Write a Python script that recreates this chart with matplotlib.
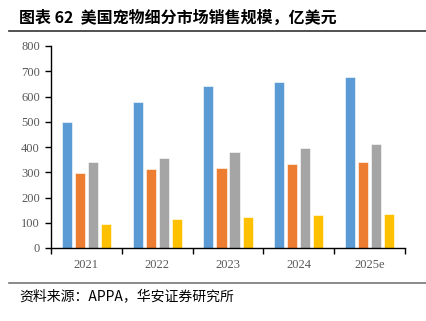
import numpy as np
import matplotlib
matplotlib.use('Agg')
import matplotlib.pyplot as plt
from matplotlib.lines import Line2D

plt.rcParams['font.family'] = ['Noto Sans CJK SC', 'DejaVu Sans']

years = ['2021', '2022', '2023', '2024', '2025e']
s1 = [500, 579, 642, 656, 676]
s2 = [297, 313, 318, 331, 342]
s3 = [342, 357, 381, 396, 412]
s4 = [94, 114, 121, 129, 133]
series = [s1, s2, s3, s4]
colors = ['#5B9BD5', '#ED7D31', '#A5A5A5', '#FFC000']
yticks = [0, 100, 200, 300, 400, 500, 600, 700, 800]

fig = plt.figure(figsize=(4.27, 3.21), dpi=100)
ax = fig.add_axes([51/427, 1-248/321, 354/427, 202/321])

x = np.arange(len(years))
step = 0.184
width = 0.142
for i, (vals, c) in enumerate(zip(series, colors)):
    ax.bar(x + (i - 1.5)*step, vals, width, color=c, edgecolor='white', linewidth=0.4)

ax.set_xlim(-0.5, len(years) - 0.5)
ax.set_ylim(0, 800)
ax.set_yticks(yticks)
ax.set_yticklabels([str(v) for v in yticks], family='Liberation Serif', fontsize=9, color='#595959')
ax.set_xticks(x)
ax.set_xticklabels(years, family='Liberation Serif', fontsize=9, color='#595959')
ax.tick_params(axis='x', length=0, pad=8)
ax.set_xticks(np.arange(len(years)+1) - 0.5, minor=True)
ax.tick_params(axis='x', which='minor', length=4, width=1, direction='out')
ax.tick_params(axis='y', length=4, width=1, direction='out', pad=4)
for s in ['top', 'right']:
    ax.spines[s].set_visible(False)
for s in ['left', 'bottom']:
    ax.spines[s].set_linewidth(1)
    ax.spines[s].set_color('black')

fig.text(19/427, 1-18/321, '图表 62  美国宠物细分市场销售规模，亿美元', fontsize=11.5,
         fontweight='bold', va='center', ha='left')
fig.add_artist(Line2D([9/427, 1], [1-31/321, 1-31/321], color='#333333', linewidth=1.2))
fig.add_artist(Line2D([9/427, 1], [1-283/321, 1-283/321], color='#777777', linewidth=1.2))
fig.text(19/427, 1-296/321, '资料来源：APPA，华安证券研究所', fontsize=10, va='center', ha='left')

fig.savefig('out.png', dpi=100)
